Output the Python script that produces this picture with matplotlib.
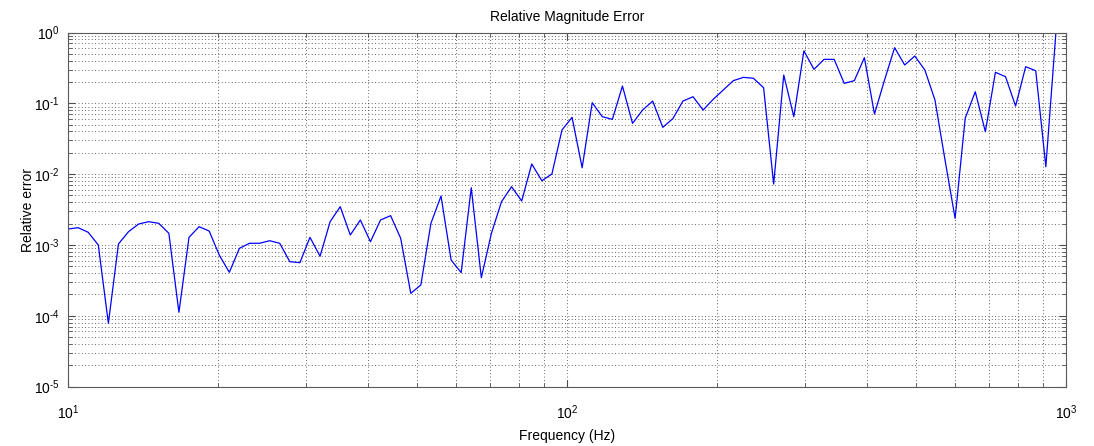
import numpy as np
import matplotlib
matplotlib.use("Agg")
import matplotlib.pyplot as plt
from matplotlib.ticker import LogLocator, NullFormatter, FuncFormatter

plt.rcParams['font.family'] = ['Liberation Sans', 'DejaVu Sans']
plt.rcParams['mathtext.fontset'] = 'custom'
plt.rcParams['mathtext.rm'] = 'Liberation Sans'

# frequency grid: 100 log-spaced points from 10 Hz to 1 kHz
freq = np.logspace(1, 3, 100)

rel_err = [
    1.679e-3, 1.750e-3, 1.507e-3, 9.98e-4, 7.82e-5, 1.030e-3, 1.538e-3, 1.972e-3, 2.128e-3, 2.018e-3,
    1.459e-3, 1.117e-4, 1.279e-3, 1.807e-3, 1.570e-3, 7.19e-4, 4.10e-4, 8.95e-4, 1.054e-3, 1.054e-3,
    1.146e-3, 1.054e-3, 5.79e-4, 5.61e-4, 1.279e-3, 6.92e-4, 2.128e-3, 3.467e-3, 1.380e-3, 2.249e-3,
    1.109e-3, 2.249e-3, 2.588e-3, 1.239e-3, 2.07e-4, 2.72e-4, 2.018e-3, 4.909e-3, 6.12e-4, 4.06e-4,
    6.427e-3, 3.44e-4, 1.459e-3, 4.074e-3, 6.637e-3, 4.169e-3, 1.390e-2, 8.07e-3, 1.002e-2, 4.198e-2,
    6.34e-2, 1.230e-2, 0.1021, 0.0647, 0.0594, 0.1754, 0.0521, 0.0804, 0.1076, 0.0458,
    0.0607, 0.1076, 0.1239, 0.0804, 0.1138, 0.1542, 0.2089, 0.2328, 0.2254, 0.1663,
    7.24e-3, 0.2512, 0.0647, 0.5508, 0.3020, 0.4178, 0.4178, 0.1914, 0.2089, 0.4416,
    0.0706, 0.2133, 0.6109, 0.3475, 0.4656, 0.2951, 0.1114, 0.0158, 2.371e-3, 0.0614,
    0.1459, 0.0397, 0.2742, 0.2377, 0.0916, 0.3289, 0.2884, 0.0127, 1.0, 1.58,
]


def pow10(v, pos):
    # short hyphen for negative exponents instead of the wide math minus
    e = int(round(np.log10(v)))
    s = ('\u2010%d' % -e) if e < 0 else '%d' % e
    return r'$10^{%s}$' % s


fig = plt.figure(figsize=(10.94, 4.46), dpi=100)
ax = fig.add_axes([0.0622, 0.1334, 0.9122, 0.7937])

ax.loglog(freq, rel_err, color=(0, 0, 1), lw=0.9)
ax.set_xlim(10, 1000)
ax.set_ylim(1e-5, 1)

ax.xaxis.set_major_locator(LogLocator(base=10, numticks=10))
ax.yaxis.set_major_locator(LogLocator(base=10, numticks=10))
ax.xaxis.set_minor_locator(LogLocator(base=10, subs=np.arange(2, 10), numticks=20))
ax.yaxis.set_minor_locator(LogLocator(base=10, subs=np.arange(2, 10), numticks=20))
ax.xaxis.set_major_formatter(FuncFormatter(pow10))
ax.yaxis.set_major_formatter(FuncFormatter(pow10))
ax.xaxis.set_minor_formatter(NullFormatter())
ax.yaxis.set_minor_formatter(NullFormatter())

ax.grid(True, which='both', color='0.2', linestyle=(0, (1, 3)), lw=0.6)

for s in ax.spines.values():
    s.set_color('0.35')
ax.tick_params(which='both', direction='in', top=True, right=True, color='0.3', labelsize=10)
ax.tick_params(which='major', length=5)
ax.tick_params(which='minor', length=3)
ax.tick_params(axis='x', pad=12)
ax.tick_params(axis='y', pad=6)

ax.set_title('Relative Magnitude Error', fontsize=10, pad=8)
ax.set_xlabel('Frequency (Hz)', fontsize=10, labelpad=5)
ax.set_ylabel('Relative error', fontsize=10, labelpad=-1)

fig.savefig('out.png', dpi=100)
